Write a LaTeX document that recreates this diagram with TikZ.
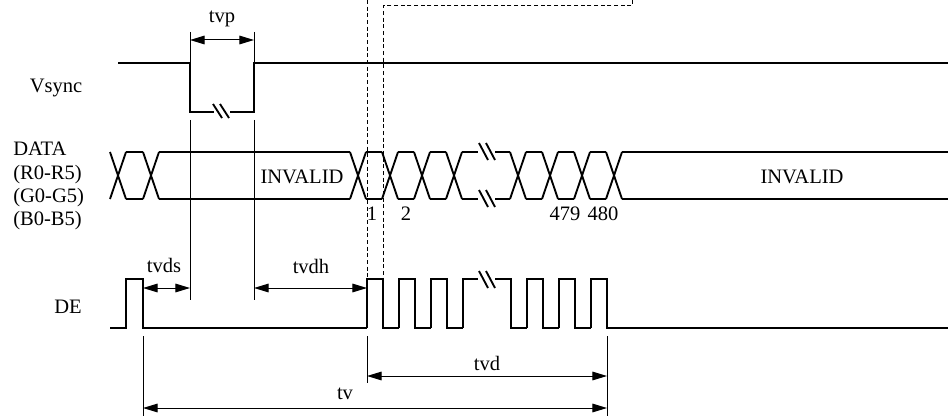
\documentclass[tikz,border=0pt]{standalone}
\usepackage{fontspec}
\setmainfont{Liberation Serif}
\usepackage{tikz}
\usetikzlibrary{arrows.meta}

\tikzset{
  sig/.style={line width=1.4pt},
  thin/.style={line width=0.75pt},
  guide/.style={line width=0.75pt, dash pattern=on 3pt off 2pt},
  dimarrow/.style={line width=0.75pt, {Triangle[length=11pt,width=6.5pt]}-{Triangle[length=11pt,width=6.5pt]}},
  lbl/.style={anchor=base, inner sep=0pt, font=\fontsize{15.4}{18}\selectfont},
}

\begin{document}
\begin{tikzpicture}[x=0.75pt,y=0.75pt,yscale=-1,xscale=1]
\useasboundingbox (0,0) rectangle (948,417);

% time marks
\coordinate (vsdn) at (190,40);
\coordinate (vsup) at (254,40);
\coordinate (deend) at (143,288);
\coordinate (vsdn2) at (190,288);
\coordinate (vsup2) at (254,288);
\coordinate (destart) at (367,288);
\coordinate (tvd-a) at (367,376);
\coordinate (tvd-b) at (607,376);
\coordinate (tv-a) at (143,408);
\coordinate (tv-b) at (607,408);

% Vsync
\draw[sig] (118,63) -- (190,63) -- (190,112) -- (214,112) ;
\draw[sig] (230,112) -- (254,112) -- (254,63) -- (948,63) ;
\draw[sig] (213,104) -- (222,118) (220,104) -- (229,118) ;

% DATA bus crossings
\foreach \c in {118,151,358,390,422,454,518,550,582,614}
  \draw[sig] (\c-8,152) -- (\c+8,199) (\c-8,199) -- (\c+8,152) ;
% DATA bus levels
\foreach \a/\b in {126/143,159/350,366/382,398/414,430/446,462/478,495/510,526/542,558/574,590/606,622/948}
  \draw[sig] (\a,152) -- (\b,152) (\a,199) -- (\b,199) ;
% DATA break
\draw[sig] (479,143) -- (488,160) (486,143) -- (495,160) ;
\draw[sig] (479,190) -- (488,207) (486,190) -- (495,207) ;

% DE
\draw[sig] (110,328) -- (126,328) -- (126,279) -- (143,279) -- (143,328) -- (367,328) ;
\foreach \r in {367,399,431}
  \draw[sig] (\r,328) -- (\r,279) -- (\r+16,279) -- (\r+16,328) -- (\r+32,328) ;
\draw[sig] (463,328) -- (463,279) -- (478,279) ;
\draw[sig] (479,271) -- (488,288) (486,271) -- (495,288) ;
\draw[sig] (495,279) -- (511,279) -- (511,328) -- (527,328) ;
\foreach \r in {527,559,591}
  \draw[sig] (\r,328) -- (\r,279) -- (\r+16,279) -- (\r+16,328) -- (\r+32,328) ;
\draw[sig] (623,328) -- (948,328) ;

% dashed guides
\draw[guide] (367,0) -- (367,279) ;
\draw[guide] (632,0) -- (632,6) -- (383,6) -- (383,279) ;

% extension lines
\draw[thin] (190,32) -- (190,63) (190,120) -- (190,300) ;
\draw[thin] (254,32) -- (254,63) (254,120) -- (254,300) ;
\draw[thin] (143,336) -- (143,416) ;
\draw[thin] (367,336) -- (367,383) ;
\draw[thin] (607,336) -- (607,416) ;

% dimensions
\draw[dimarrow] (vsdn) -- (vsup) ;
\draw[dimarrow] (deend) -- (vsdn2) ;
\draw[dimarrow] (vsup2) -- (destart) ;
\draw[dimarrow] (tvd-a) -- (tvd-b) ;
\draw[dimarrow] (tv-a) -- (tv-b) ;

% Text Node
\node[lbl] (tvp) at (222,23) {tvp};
\node[lbl] (tvds) at (164,272) {tvds};
\node[lbl] (tvdh) at (311,273) {tvdh};
\node[lbl] (tvd) at (487,370) {tvd};
\node[lbl] (tv) at (345,399) {tv};
% Text Node
\node[lbl] (vsync) at (56,93) {Vsync};
\node[lbl] (de) at (68,313) {DE};
\node[lbl, anchor=base west] (data) at (13,156) {DATA};
\node[lbl, anchor=base west] (red) at (13,179) {(R0-R5)};
\node[lbl, anchor=base west] (green) at (13,202) {(G0-G5)};
\node[lbl, anchor=base west] (blue) at (13,225) {(B0-B5)};
% Text Node
\node[lbl] (inv1) at (302,183) {INVALID};
\node[lbl] (inv2) at (802,183) {INVALID};
\node[lbl] (n1) at (372,220) {1};
\node[lbl] (n2) at (406,220) {2};
\node[lbl] (n479) at (565,220) {479};
\node[lbl] (n480) at (603,220) {480};
\end{tikzpicture}
\end{document}
